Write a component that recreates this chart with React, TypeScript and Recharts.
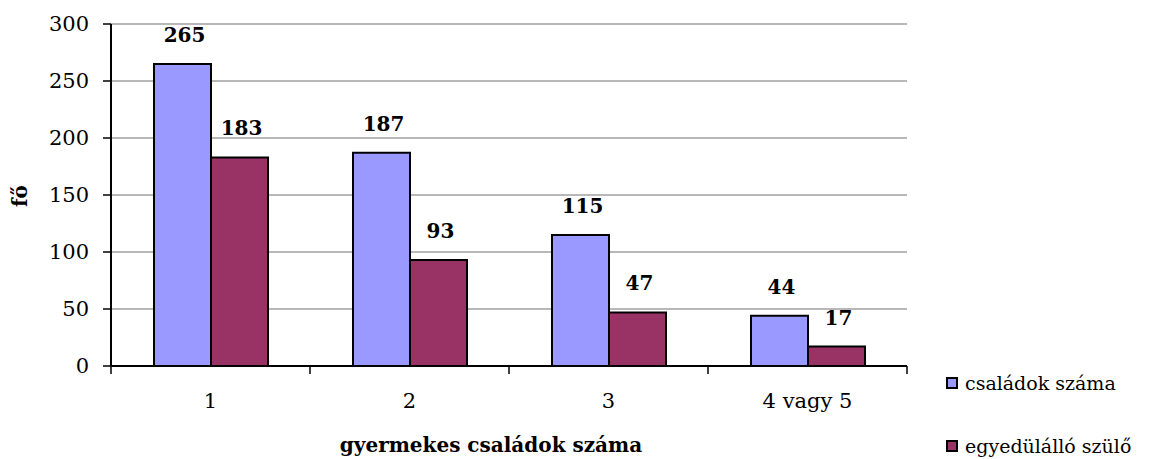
import { Bar, BarChart, CartesianGrid, LabelList, XAxis, YAxis } from 'recharts';

const categories = ['1', '2', '3', '4 vagy 5'];
const csaladokSzama = [265, 187, 115, 44];
const egyeduloSzulo = [183, 93, 47, 17];
const yTicks = [0, 50, 100, 150, 200, 250, 300];

const SERIES = [
  { key: 'csaladok', name: 'családok száma', color: '#9999FF' },
  { key: 'egyedul', name: 'egyedülálló szülő', color: '#993366' }
];

const data = categories.map((c, i) => ({
  name: c,
  csaladok: csaladokSzama[i],
  egyedul: egyeduloSzulo[i]
}));

const FONT = 'DejaVu Serif';
const W = 1152;
const H = 459;
const MARGIN = { top: 24, right: 245, left: 0, bottom: 0 };
const Y_AXIS_W = 111;
const X_AXIS_H = 93;
const BAND = (W - Y_AXIS_W - MARGIN.right) / categories.length;

// category labels plus the Excel-style tick marks between categories
const XTick = (props: any) => {
  const { x, y, payload, index } = props;
  const left = x - BAND / 2;
  return (
    <g>
      <line x1={left} x2={left} y1={y - 8} y2={y} stroke="#000" strokeWidth={1.5} />
      {index === categories.length - 1 && (
        <line x1={left + BAND} x2={left + BAND} y1={y - 8} y2={y} stroke="#000" strokeWidth={1.5} />
      )}
      <text x={x} y={y + 34} textAnchor="middle" style={{ fontFamily: FONT }} fontSize={21} fill="#000">
        {payload.value}
      </text>
    </g>
  );
};

const ValueLabel = (props: any) => {
  const { x, y, width, value } = props;
  const baseline = Math.max(y - 22, 42);
  return (
    <text
      x={x + width / 2 + 2}
      y={baseline}
      textAnchor="middle"
      style={{ fontFamily: FONT }}
      fontSize={20}
      fontWeight="bold"
      fill="#000"
    >
      {value}
    </text>
  );
};

export default function App() {
  return (
    <div style={{ position: 'absolute', left: 0, top: 0, width: W, height: H, background: '#fff', fontFamily: FONT, overflow: 'hidden' }}>
      <BarChart
        width={W}
        height={H}
        data={data}
        margin={MARGIN}
        barCategoryGap={43}
        barGap={0}
        style={{ fontFamily: FONT }}
      >
        <CartesianGrid vertical={false} stroke="#a0a0a0" strokeWidth={1.5} yAxisId="left" />
        <XAxis
          dataKey="name"
          height={X_AXIS_H}
          axisLine={{ stroke: '#000', strokeWidth: 2 }}
          tickLine={false}
          tick={<XTick />}
          interval={0}
        />
        <YAxis
          yAxisId="left"
          width={Y_AXIS_W}
          domain={[0, 300]}
          ticks={yTicks}
          axisLine={{ stroke: '#000', strokeWidth: 2 }}
          tickLine={{ stroke: '#000', strokeWidth: 1.5 }}
          tickSize={8}
          tickMargin={14}
          tick={{ fill: '#000', fontSize: 21, fontFamily: FONT }}
        />
        <YAxis
          yAxisId="right"
          orientation="right"
          width={0}
          domain={[0, 300]}
          tick={false}
          tickLine={false}
          axisLine={{ stroke: '#8a8a8a', strokeWidth: 2 }}
        />
        {SERIES.map((s) => (
          <Bar
            key={s.key}
            yAxisId="left"
            dataKey={s.key}
            name={s.name}
            fill={s.color}
            stroke="#000"
            strokeWidth={2}
            isAnimationActive={false}
          >
            <LabelList dataKey={s.key} content={<ValueLabel />} />
          </Bar>
        ))}
        <text
          x={21}
          y={196}
          transform="rotate(-90 21 196)"
          textAnchor="middle"
          dominantBaseline="middle"
          style={{ fontFamily: FONT }}
          fontSize={20}
          fontWeight="bold"
        >
          fő
        </text>
        <text
          x={491}
          y={452}
          textAnchor="middle"
          style={{ fontFamily: FONT }}
          fontSize={20}
          fontWeight="bold"
        >
          gyermekes családok száma
        </text>
      </BarChart>
      {SERIES.map((s, i) => (
        <div
          key={s.key}
          style={{
            position: 'absolute',
            left: 946,
            top: 372 + i * 63,
            display: 'flex',
            alignItems: 'center',
            fontFamily: FONT,
            fontSize: 19,
            whiteSpace: 'nowrap',
            color: '#000'
          }}
        >
          <span
            style={{
              width: 8,
              height: 8,
              background: s.color,
              border: '2px solid #000',
              marginRight: 7,
              display: 'inline-block'
            }}
          />
          {s.name}
        </div>
      ))}
    </div>
  );
}
